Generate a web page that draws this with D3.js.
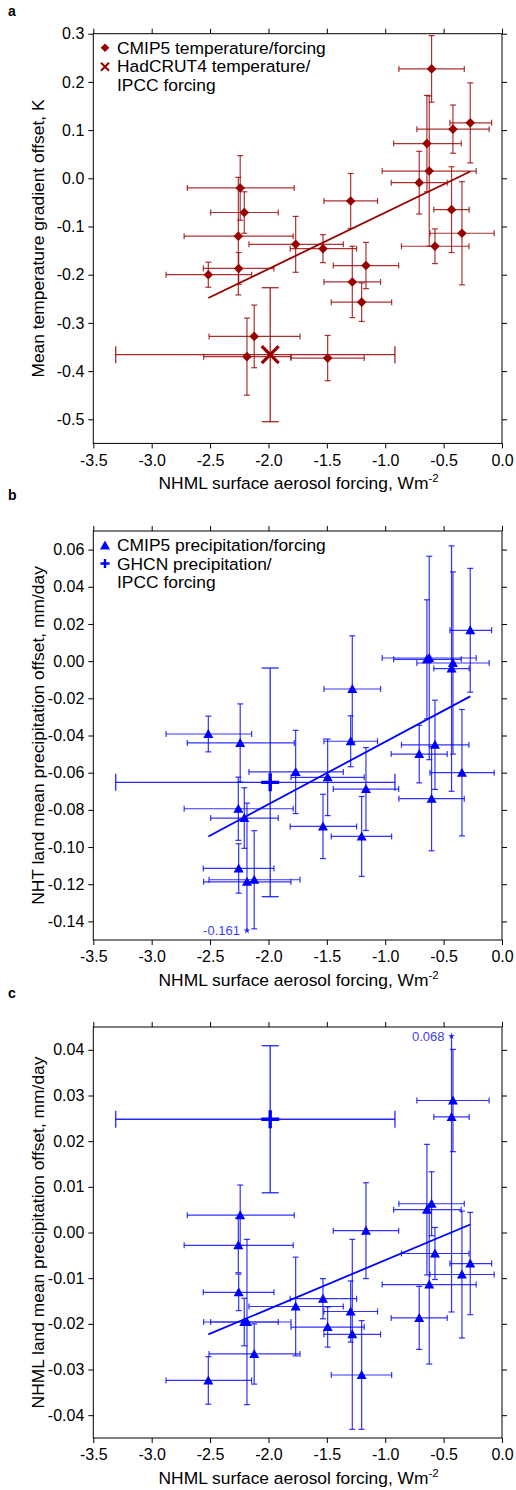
<!DOCTYPE html>
<html><head><meta charset="utf-8">
<script src="https://cdn.jsdelivr.net/npm/d3@7"></script>
<style>
body{margin:0;background:#fff}
svg{display:block}
text{font-family:"Liberation Sans",Arial,Helvetica,sans-serif}
</style>
</head><body>
<svg id="chart" width="516" height="1490"></svg>
<script>
// ---------------- DATA ----------------
// Aerosol forcing per CMIP5 model (shared by all panels), W m-2
const forcing   = [-2.242,-0.603,-0.420,-0.272,-0.643,-0.623,-0.709,-1.296,-0.432,-0.343,-0.574,-2.207,-2.258,-2.255,-2.515,-1.767,-1.282,-1.202,-2.122,-2.184,-1.493,-1.533,-1.165];
const forcingLo = [-2.695,-0.883,-0.729,-0.446,-0.928,-1.026,-0.949,-1.525,-0.584,-0.617,-0.861,-2.495,-2.722,-2.558,-2.877,-2.167,-1.525,-1.462,-2.509,-2.555,-1.807,-1.814,-1.445];
const forcingHi = [-1.779,-0.323,-0.110,-0.089,-0.349,-0.221,-0.469,-1.066,-0.281,-0.067,-0.283,-1.916,-1.788,-1.953,-2.144,-1.359,-1.040,-0.945,-1.730,-1.807,-1.180,-1.245,-0.885];

// Panel a: mean temperature gradient offset, K
const tempOffset = [-0.020,0.227,0.102,0.115,0.072,0.015,-0.009,-0.047,-0.065,-0.114,-0.141,-0.071,-0.120,-0.187,-0.200,-0.137,-0.215,-0.257,-0.328,-0.370,-0.373,-0.146,-0.181];
const tempErr    = [0.067,0.069,0.050,0.083,0.100,0.156,0.065,0.057,0.089,0.107,0.036,0.043,0.122,0.033,0.026,0.058,0.074,0.040,0.065,0.080,0.047,0.029,0.048];

// Panel b: NHT land mean precipitation offset, mm/day
const nhtPrecip    = [-0.044,-0.074,-0.001,0.0166,0.001,0.0017,-0.050,-0.0431,-0.004,-0.060,-0.045,-0.0844,-0.0794,-0.1115,-0.0392,-0.0596,-0.015,-0.0943,-0.1176,-0.1187,-0.0625,-0.0889,-0.0688];
const nhtPrecipErr = [0.021,0.028,0.049,0.0333,0.032,0.0547,0.0155,0.0137,0.066,0.034,0.024,0.0163,0.017,0.0133,0.0096,0.0224,0.0286,0.0215,0.0264,0.0423,0.0206,0.0173,0.0223];

// Panel c: NHML land mean precipitation offset, mm/day
const nhmlPrecip    = [0.0038,0.0063,0.0289,-0.0068,0.0050,-0.0114,-0.0187,-0.0173,0.0253,-0.0092,-0.0046,-0.0196,-0.0028,-0.0131,-0.0324,-0.0162,-0.0223,-0.0312,-0.0266,-0.0196,-0.0207,-0.0145,0.0004];
const nhmlPrecipErr = [0.0066,0.007,0.0112,0.0112,0.0143,0.0174,0.0069,0.0067,0.0427,0.0139,0.0057,0.0052,0.006,0.004,0.0052,0.0108,0.0208,0.0119,0.0066,0.0181,0.0044,0.0044,0.0105];

// Observations (IPCC forcing)
const obsForcing   = [-1.985, -3.308, -0.917];   // value, low, high
const obsTemp      = [-0.366, 0.139];            // HadCRUT4 value, error
const obsNhtPrecip = [-0.0652, 0.0615];          // GHCN
const obsNhmlPrecip= [0.0248, 0.0161];           // GHCN

// Regression fits (slope, intercept)
const fitTemp = [0.117, 0.046];
const fitNht  = [0.0336, -0.0098];
const fitNhml = [0.01073, 0.00468];

// Axis clip for off-scale error bars
const clipNht  = -0.145;
const clipNhml = 0.043;

// Tick labels
const xTicks  = [-3.5,-3.0,-2.5,-2.0,-1.5,-1.0,-0.5,0.0];
const yTicksA = [-0.5,-0.4,-0.3,-0.2,-0.1,0.0,0.1,0.2,0.3];
const yTicksB = [-0.14,-0.12,-0.10,-0.08,-0.06,-0.04,-0.02,0.00,0.02,0.04,0.06];
const yTicksC = [-0.04,-0.03,-0.02,-0.01,0.00,0.01,0.02,0.03,0.04];

// ---------------- DRAW ----------------
const svg = d3.select("#chart");
const L = 93.3, R = 502;
const x = d3.scaleLinear().domain([-3.5, 0]).range([L, R]);
const FS = 16;     // tick labels
const LFS = 17.4;  // axis labels / legend

function diamondPath(r){ return `M0,${-r}L${r},0L0,${r}L${-r},0Z`; }
function trianglePath(){ return "M0,-5L5,4L-5,4Z"; }

function drawPanel(cfg){
  const y = d3.scaleLinear().domain(cfg.yDomain).range([cfg.bottom, cfg.top]);
  const g = svg.append("g");
  const col = cfg.color;
  const fmtY = d => d.toFixed(cfg.yDec);
  const fmtX = d => d.toFixed(1);

  // axes
  const ax = (axis, tr) => g.append("g").attr("transform", tr).call(axis)
      .call(s => s.select(".domain").remove())
      .call(s => s.selectAll("line").attr("stroke","#000"))
      .call(s => s.selectAll("text").attr("font-size", FS).attr("fill","#000")
                  .attr("font-family","'Liberation Sans',Arial,sans-serif"));
  ax(d3.axisBottom(x).tickValues(xTicks).tickSize(5).tickPadding(6).tickFormat(fmtX), `translate(0,${cfg.bottom})`);
  ax(d3.axisTop(x).tickValues(xTicks).tickSize(5).tickFormat(""), `translate(0,${cfg.top})`);
  ax(d3.axisLeft(y).tickValues(cfg.yTicks).tickSize(5).tickPadding(4).tickFormat(fmtY), `translate(${L},0)`);
  ax(d3.axisRight(y).tickValues(cfg.yTicks).tickSize(5).tickFormat(""), `translate(${R},0)`);

  g.append("rect").attr("x", L).attr("y", cfg.top).attr("width", R-L).attr("height", cfg.bottom-cfg.top)
    .attr("fill","none").attr("stroke","#000").attr("stroke-width",1);

  // labels
  const xl = g.append("text").attr("x", (L+R)/2 + 1).attr("y", cfg.bottom+45.5)
    .attr("text-anchor","middle").attr("font-size",LFS).text("NHML surface aerosol forcing, Wm");
  xl.append("tspan").attr("font-size",11.5).attr("dy",-7).text("-2");
  g.append("text").attr("transform",`translate(44,${(cfg.top+cfg.bottom)/2}) rotate(-90)`)
    .attr("text-anchor","middle").attr("font-size",LFS).text(cfg.yLabel);
  g.append("text").attr("x",8).attr("y",cfg.letterY).attr("font-size",14).attr("font-weight","bold").text(cfg.letter);

  // error bars
  const eb = g.append("g").attr("stroke", col).attr("stroke-width",1.2).attr("stroke-opacity",0.8).attr("fill","none");
  const cap = 3;
  forcing.forEach((fx,i) => {
    const cx = x(fx), v = cfg.vals[i], e = cfg.errs[i];
    const cy = y(v);
    // horizontal
    const x0 = x(forcingLo[i]), x1 = x(forcingHi[i]);
    eb.append("line").attr("x1",x0).attr("x2",x1).attr("y1",cy).attr("y2",cy);
    eb.append("line").attr("x1",x0).attr("x2",x0).attr("y1",cy-cap).attr("y2",cy+cap);
    eb.append("line").attr("x1",x1).attr("x2",x1).attr("y1",cy-cap).attr("y2",cy+cap);
    // vertical
    const lo = v - e, hi = v + e;
    const loClip = cfg.clip !== undefined && cfg.clip < 0 && lo < cfg.clip;
    const hiClip = cfg.clip !== undefined && cfg.clip > 0 && hi > cfg.clip;
    const yl = loClip ? y(cfg.clip) : y(lo);
    const yh = hiClip ? y(cfg.clip) : y(hi);
    eb.append("line").attr("x1",cx).attr("x2",cx).attr("y1",yl).attr("y2",yh);
    if (!loClip) eb.append("line").attr("x1",cx-cap).attr("x2",cx+cap).attr("y1",yl).attr("y2",yl);
    if (!hiClip) eb.append("line").attr("x1",cx-cap).attr("x2",cx+cap).attr("y1",yh).attr("y2",yh);
    if (loClip || hiClip) {
      const sy = loClip ? yl : yh;
      const val = loClip ? lo : hi;
      g.append("path").attr("d", d3.symbol(d3.symbolStar, 14)()).attr("transform",`translate(${cx},${sy})`)
        .attr("fill",col).attr("fill-opacity",0.8);
      g.append("text").attr("x", cx-7).attr("y", sy+4.5).attr("text-anchor","end")
        .attr("font-size",13).attr("fill",col).attr("fill-opacity",0.8).text(val.toFixed(3));
    }
  });

  // observation error bars
  const ob = g.append("g").attr("stroke", col).attr("stroke-width",1.3).attr("stroke-opacity",0.85).attr("fill","none");
  const ox = x(obsForcing[0]), oy = y(cfg.obs[0]);
  const oc = 8.5;
  const ox0 = x(obsForcing[1]), ox1 = x(obsForcing[2]);
  ob.append("line").attr("x1",ox0).attr("x2",ox1).attr("y1",oy).attr("y2",oy);
  ob.append("line").attr("x1",ox0).attr("x2",ox0).attr("y1",oy-oc).attr("y2",oy+oc);
  ob.append("line").attr("x1",ox1).attr("x2",ox1).attr("y1",oy-oc).attr("y2",oy+oc);
  const oyl = y(cfg.obs[0]-cfg.obs[1]), oyh = y(cfg.obs[0]+cfg.obs[1]);
  ob.append("line").attr("x1",ox).attr("x2",ox).attr("y1",oyl).attr("y2",oyh);
  ob.append("line").attr("x1",ox-oc).attr("x2",ox+oc).attr("y1",oyl).attr("y2",oyl);
  ob.append("line").attr("x1",ox-oc).attr("x2",ox+oc).attr("y1",oyh).attr("y2",oyh);

  // regression line
  const xmin = d3.min(forcing), xmax = d3.max(forcing);
  g.append("line").attr("x1",x(xmin)).attr("x2",x(xmax))
    .attr("y1",y(cfg.fit[0]*xmin+cfg.fit[1])).attr("y2",y(cfg.fit[0]*xmax+cfg.fit[1]))
    .attr("stroke",col).attr("stroke-width",1.8);

  // model markers
  g.selectAll(null).data(forcing).join("path")
    .attr("d", cfg.marker === "diamond" ? diamondPath(4.8) : trianglePath())
    .attr("transform",(d,i)=>`translate(${x(d)},${y(cfg.vals[i])})`)
    .attr("fill",col);

  // observation marker
  if (cfg.obsMarker === "x") {
    const s = 8.5;
    g.append("path").attr("d",`M${ox-s},${oy-s}L${ox+s},${oy+s}M${ox-s},${oy+s}L${ox+s},${oy-s}`)
      .attr("stroke",col).attr("stroke-width",3.2).attr("fill","none");
  } else {
    const s = 9;
    g.append("path").attr("d",`M${ox-s},${oy}L${ox+s},${oy}M${ox},${oy-s}L${ox},${oy+s}`)
      .attr("stroke",col).attr("stroke-width",3.4).attr("fill","none");
  }

  // legend
  if (cfg.legend) {
    const lx = 105, ty = cfg.top;
    if (cfg.marker === "diamond") g.append("path").attr("d",diamondPath(4.3)).attr("transform",`translate(${lx},${ty+14})`).attr("fill",col);
    else g.append("path").attr("d",trianglePath()).attr("transform",`translate(${lx},${ty+14.5})`).attr("fill",col);
    if (cfg.obsMarker === "x") {
      const s = 4;
      g.append("path").attr("d",`M${lx-s},${ty+33-s}L${lx+s},${ty+33+s}M${lx-s},${ty+33+s}L${lx+s},${ty+33-s}`)
        .attr("stroke",col).attr("stroke-width",2).attr("fill","none");
    } else {
      const s = 4.5;
      g.append("path").attr("d",`M${lx-s},${ty+32.5}L${lx+s},${ty+32.5}M${lx},${ty+32.5-s}L${lx},${ty+32.5+s}`)
        .attr("stroke",col).attr("stroke-width",2.4).attr("fill","none");
    }
    const lines = cfg.legend;
    g.append("text").attr("x",117).attr("y",ty+20).attr("font-size",LFS).text(lines[0]);
    g.append("text").attr("x",117).attr("y",ty+38.5).attr("font-size",LFS).text(lines[1]);
    g.append("text").attr("x",117).attr("y",ty+57).attr("font-size",LFS).text(lines[2]);
  }
}

drawPanel({
  top: 33.7, bottom: 443.4, yDomain: [-0.55, 0.3], yTicks: yTicksA, yDec: 1,
  vals: tempOffset, errs: tempErr, obs: obsTemp, fit: fitTemp,
  color: "#990000", marker: "diamond", obsMarker: "x",
  yLabel: "Mean temperature gradient offset, K", letter: "a", letterY: 16,
  legend: ["CMIP5 temperature/forcing", "HadCRUT4 temperature/", "IPCC forcing"]
});
drawPanel({
  top: 531, bottom: 940, yDomain: [-0.15, 0.07], yTicks: yTicksB, yDec: 2,
  vals: nhtPrecip, errs: nhtPrecipErr, obs: obsNhtPrecip, fit: fitNht, clip: clipNht,
  color: "#0000ff", marker: "triangle", obsMarker: "+",
  yLabel: "NHT land mean precipitation offset, mm/day", letter: "b", letterY: 500,
  legend: ["CMIP5 precipitation/forcing", "GHCN precipitation/", "IPCC forcing"]
});
drawPanel({
  top: 1027, bottom: 1438, yDomain: [-0.045, 0.045], yTicks: yTicksC, yDec: 2,
  vals: nhmlPrecip, errs: nhmlPrecipErr, obs: obsNhmlPrecip, fit: fitNhml, clip: clipNhml,
  color: "#0000ff", marker: "triangle", obsMarker: "+",
  yLabel: "NHML land mean precipitation offset, mm/day", letter: "c", letterY: 998
});
</script>
</body></html>
